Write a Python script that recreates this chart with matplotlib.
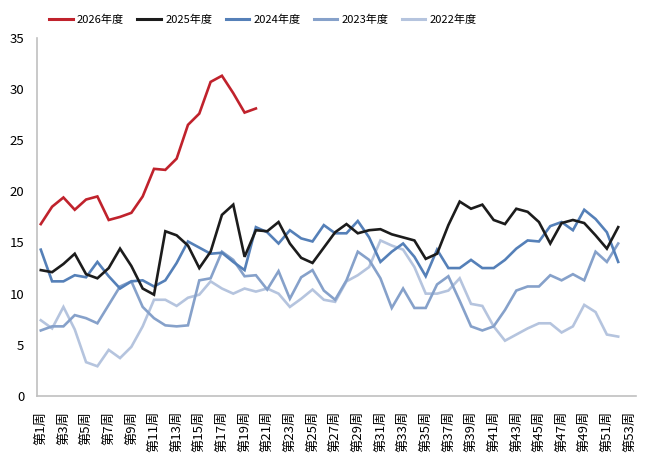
import matplotlib
matplotlib.use("Agg")
import matplotlib.pyplot as plt

plt.rcParams['font.family'] = ['Noto Sans CJK SC', 'DejaVu Sans']

weeks_all = list(range(1, 54))
tick_weeks = list(range(1, 54, 2))
tick_labels = [f"第{w}周" for w in tick_weeks]

s2026 = [16.8, 18.5, 19.4, 18.2, 19.2, 19.5, 17.2, 17.5, 17.9, 19.5,
         22.2, 22.1, 23.2, 26.5, 27.6, 30.7, 31.3, 29.6, 27.7, 28.1]
s2025 = [12.3, 12.1, 12.9, 13.9, 11.9, 11.5, 12.5, 14.4, 12.7, 10.5,
         9.9, 16.1, 15.7, 14.7, 12.5, 14.1, 17.7, 18.7, 13.6, 16.2,
         16.1, 17.0, 14.9, 13.5, 13.0, 14.5, 16.0, 16.8, 15.9, 16.2,
         16.3, 15.8, 15.5, 15.2, 13.4, 13.9, 16.7, 19.0, 18.3, 18.7,
         17.2, 16.8, 18.3, 18.0, 17.0, 14.9, 16.9, 17.2, 16.9, 15.7,
         14.4, 16.5]
s2024 = [14.3, 11.2, 11.2, 11.8, 11.6, 13.1, 11.7, 10.5, 11.2, 11.3,
         10.7, 11.3, 13.0, 15.1, 14.5, 13.9, 14.0, 13.1, 12.3, 16.5,
         16.0, 14.9, 16.2, 15.4, 15.1, 16.7, 15.9, 15.9, 17.1, 15.5,
         13.1, 14.1, 14.9, 13.6, 11.7, 14.3, 12.5, 12.5, 13.3, 12.5,
         12.5, 13.3, 14.4, 15.2, 15.1, 16.6, 17.0, 16.2, 18.2, 17.3,
         16.0, 13.1]
s2023 = [6.4, 6.8, 6.8, 7.9, 7.6, 7.1, 8.9, 10.7, 11.2, 8.7,
         7.6, 6.9, 6.8, 6.9, 11.3, 11.5, 14.1, 13.3, 11.7, 11.8,
         10.4, 12.2, 9.5, 11.6, 12.3, 10.3, 9.4, 11.3, 14.1, 13.3,
         11.5, 8.6, 10.5, 8.6, 8.6, 10.9, 11.7, 9.3, 6.8, 6.4,
         6.8, 8.4, 10.3, 10.7, 10.7, 11.8, 11.3, 11.9, 11.3, 14.1,
         13.1, 14.9]
s2022 = [7.4, 6.6, 8.7, 6.5, 3.3, 2.9, 4.5, 3.7, 4.8, 6.8,
         9.4, 9.4, 8.8, 9.6, 9.9, 11.2, 10.5, 10.0, 10.5, 10.2,
         10.5, 10.0, 8.7, 9.5, 10.4, 9.4, 9.2, 11.2, 11.8, 12.6,
         15.2, 14.7, 14.3, 12.6, 10.0, 10.0, 10.3, 11.5, 9.0, 8.8,
         6.8, 5.4, 6.0, 6.6, 7.1, 7.1, 6.2, 6.8, 8.9, 8.2,
         6.0, 5.8]

series = [
    ("2026年度", s2026, "#c0222c"),
    ("2025年度", s2025, "#1c1c1c"),
    ("2024年度", s2024, "#5580b8"),
    ("2023年度", s2023, "#86a1ca"),
    ("2022年度", s2022, "#b5c4de"),
]

fig = plt.figure(figsize=(6.46, 4.68), dpi=100)
ax = fig.add_axes([0.057, 0.154, 0.928, 0.765])

for name, vals, col in reversed(series):
    x = weeks_all[:len(vals)]
    ax.plot(x, vals, color=col, lw=1.9, solid_joinstyle='miter')

handles = []
for name, vals, col in series:
    h, = ax.plot([], [], color=col, lw=2.2, label=name)
    handles.append(h)

ax.set_xlim(0.65, 53.6)
ax.set_ylim(0, 35)
ax.set_yticks(range(0, 36, 5))
ax.set_xticks(tick_weeks)
ax.set_xticklabels(tick_labels, rotation=90, va='top', ha='center', fontsize=9.5)
ax.tick_params(axis='x', length=0, pad=11)
ax.tick_params(axis='y', length=0, pad=9, labelsize=9.5)
for s in ['top', 'right']:
    ax.spines[s].set_visible(False)
for s in ['left', 'bottom']:
    ax.spines[s].set_color('#c0c0c0')
    ax.spines[s].set_linewidth(1.2)

fig.legend(handles=handles, loc='center', bbox_to_anchor=(263/646, 1 - 20/468),
           ncol=5, frameon=False, fontsize=8, handlelength=2.1,
           columnspacing=1.2, handletextpad=0.4)

fig.savefig("out.png", dpi=100)
